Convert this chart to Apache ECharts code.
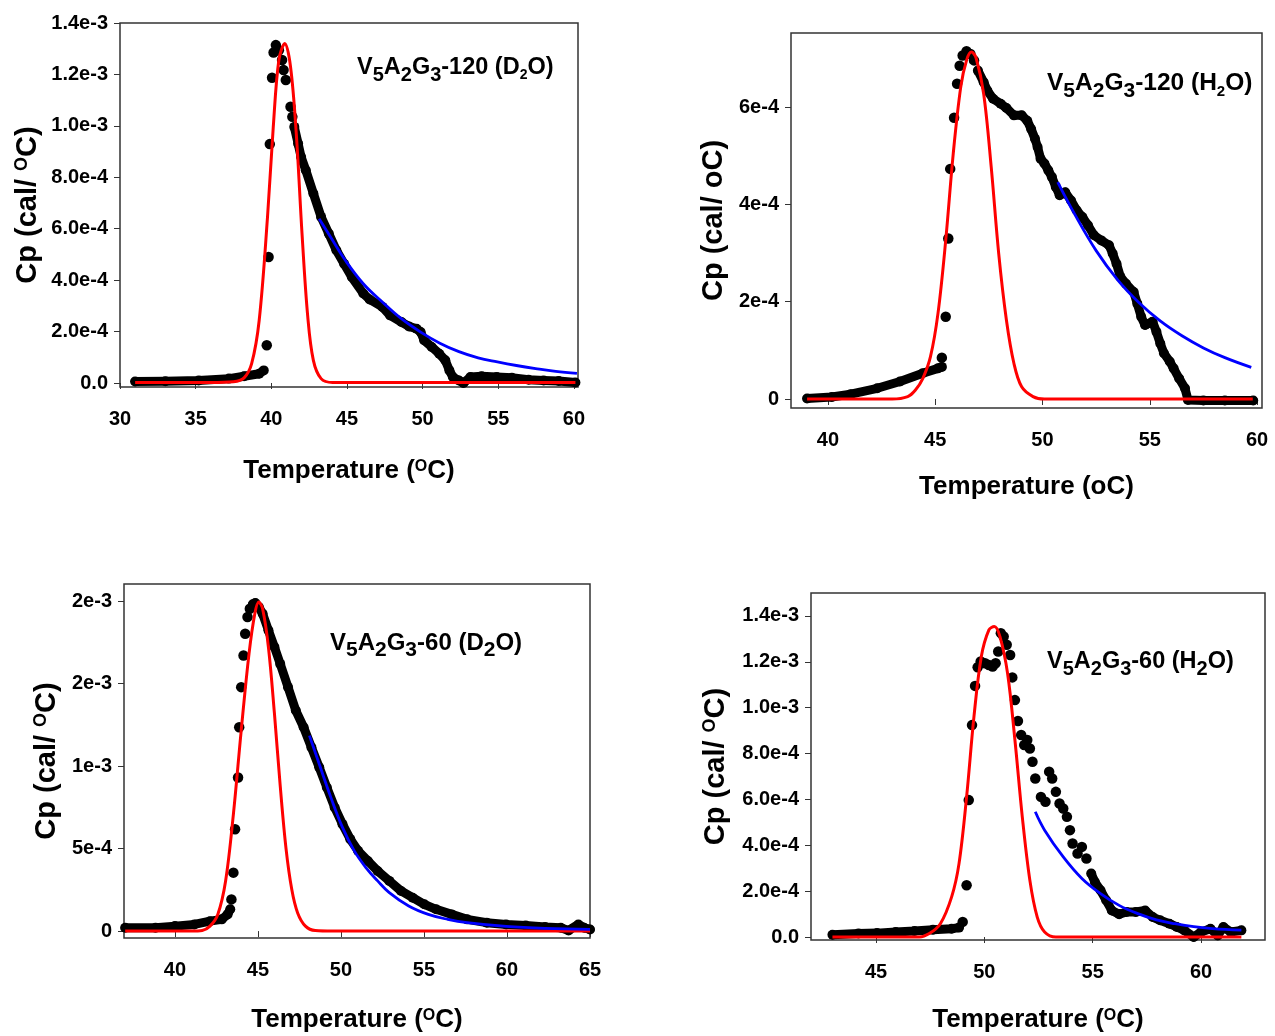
<!DOCTYPE html>
<html><head><meta charset="utf-8">
<script src="https://cdn.jsdelivr.net/npm/echarts@6/dist/echarts.min.js"></script>
<style>html,body{margin:0;padding:0;background:#fff}#c{width:1275px;height:1036px}</style>
</head><body><div id="c"></div>
<script>
// ---------------- Panel 1: V5A2G3-120 (D2O) ----------------
const p1XTicks = [30, 35, 40, 45, 50, 55, 60];
const p1YTicks = [0, 2e-4, 4e-4, 6e-4, 8e-4, 10e-4, 12e-4, 14e-4];
const p1YLabels = ['0.0', '2.0e-4', '4.0e-4', '6.0e-4', '8.0e-4', '1.0e-3', '1.2e-3', '1.4e-3'];
const p1Band = [[31.0,0.06e-4],[33.0,0.07e-4],[35.2,0.10e-4],[37.2,0.17e-4],[38.2,0.26e-4],[39.2,0.36e-4],[39.5,0.49e-4],'-',
  [41.52,9.96e-4],[41.77,9.31e-4],[41.97,8.79e-4],[42.28,8.27e-4],[42.78,7.37e-4],[43.29,6.46e-4],[43.8,5.81e-4],[44.3,5.16e-4],[44.81,4.64e-4],
  [45.32,4.12e-4],[46.08,3.48e-4],[46.5,3.25e-4],[47.34,2.96e-4],[47.85,2.63e-4],[48.6,2.37e-4],[49.1,2.20e-4],[49.6,2.11e-4],[49.87,1.98e-4],
  [50.1,1.66e-4],[50.6,1.40e-4],[51.1,1.14e-4],[51.5,0.88e-4],[51.77,0.49e-4],[52.0,0.23e-4],[52.4,0.10e-4],[52.7,0.0],[53.16,0.23e-4],
  [53.9,0.26e-4],[54.9,0.23e-4],[55.9,0.20e-4],[57.0,0.13e-4],[58.0,0.10e-4],[59.0,0.08e-4],[60.1,0.02e-4]];
const p1Dots = [[39.70,1.47e-4],[39.82,4.90e-4],[39.90,9.29e-4],[40.05,11.87e-4],[40.15,12.85e-4],[40.30,13.14e-4],[40.50,12.94e-4],
  [40.71,12.56e-4],[40.81,12.17e-4],[40.96,11.78e-4],[41.27,10.74e-4],[41.39,10.35e-4]];
const p1Red = [[31,0.02e-4],[36,0.02e-4],[37.5,0.05e-4],[38.2,0.2e-4],[38.7,0.75e-4],[39.2,2.44e-4],[39.75,6.46e-4],[40.13,9.96e-4],
  [40.5,12.56e-4],[40.89,13.2e-4],[41.27,12.3e-4],[41.65,9.7e-4],[42.03,5.81e-4],[42.41,2.57e-4],[42.78,0.88e-4],[43.29,0.17e-4],
  [44.05,0.02e-4],[50,0.02e-4],[60.1,0.02e-4]];
const p1Blue = [[43.16,6.39e-4],[44.05,5.55e-4],[44.81,4.84e-4],[46.08,3.86e-4],[47.34,3.15e-4],[48.6,2.50e-4],[49.87,1.98e-4],
  [51.14,1.55e-4],[52.4,1.22e-4],[53.67,0.98e-4],[54.94,0.82e-4],[56.2,0.68e-4],[57.47,0.56e-4],[58.8,0.45e-4],[60.2,0.37e-4]];

// ---------------- Panel 2: V5A2G3-120 (H2O) ----------------
const p2XTicks = [40, 45, 50, 55, 60];
const p2YTicks = [0, 2e-4, 4e-4, 6e-4];
const p2YLabels = ['0', '2e-4', '4e-4', '6e-4'];
const p2Band = [[39.03,0.01e-4],[40.18,0.04e-4],[41.06,0.10e-4],[42.3,0.22e-4],[43.36,0.36e-4],[44.42,0.53e-4],[45.13,0.63e-4],[45.31,0.66e-4],'-',
  [46.99,6.75e-4],[47.26,6.51e-4],[47.43,6.34e-4],[47.7,6.17e-4],[48.05,6.07e-4],[48.32,5.98e-4],[48.67,5.83e-4],[49.03,5.83e-4],[49.29,5.72e-4],
  [49.47,5.55e-4],[49.65,5.35e-4],[49.77,5.18e-4],[49.91,4.94e-4],[50.09,4.84e-4],[50.27,4.70e-4],[50.44,4.56e-4],[50.62,4.36e-4],[50.8,4.19e-4],
  [51.06,4.25e-4],[51.33,4.08e-4],[51.59,3.88e-4],[51.86,3.74e-4],[52.12,3.57e-4],[52.39,3.37e-4],[52.74,3.26e-4],[53.1,3.16e-4],[53.27,2.99e-4],
  [53.45,2.78e-4],[53.63,2.51e-4],[53.89,2.37e-4],[54.25,2.20e-4],[54.42,1.96e-4],[54.6,1.69e-4],[54.78,1.52e-4],[55.13,1.59e-4],[55.31,1.38e-4],
  [55.49,1.14e-4],[55.66,0.94e-4],[55.93,0.77e-4],[56.11,0.63e-4],[56.37,0.42e-4],[56.64,0.22e-4],[56.78,-0.02e-4],[57.5,-0.03e-4],[58.5,-0.03e-4],[59.82,-0.03e-4]];
const p2Dots = [[45.31,0.85e-4],[45.49,1.69e-4],[45.61,3.30e-4],[45.70,4.73e-4],[45.88,5.78e-4],[46.02,6.48e-4],[46.14,6.85e-4],[46.28,7.06e-4],
  [46.46,7.15e-4],[46.64,7.09e-4],[46.81,6.96e-4]];
const p2Red = [[39.03,0],[43.0,0],[43.72,0.05e-4],[44.07,0.18e-4],[44.42,0.42e-4],[44.78,0.87e-4],[45.13,1.76e-4],[45.49,3.26e-4],[45.84,5.04e-4],
  [46.19,6.41e-4],[46.46,6.96e-4],[46.69,7.13e-4],[46.9,7.02e-4],[47.26,6.27e-4],[47.61,4.77e-4],[47.96,2.99e-4],[48.32,1.62e-4],[48.67,0.73e-4],
  [49.03,0.25e-4],[49.56,0.05e-4],[50.09,0],[59.8,0]];
const p2Blue = [[50.71,4.46e-4],[51.5,3.80e-4],[52.5,3.05e-4],[53.5,2.45e-4],[54.5,1.98e-4],[55.5,1.60e-4],[56.5,1.30e-4],[57.5,1.05e-4],
  [58.5,0.85e-4],[59.73,0.65e-4]];

// ---------------- Panel 3: V5A2G3-60 (D2O) ----------------
const p3XTicks = [40, 45, 50, 55, 60, 65];
const p3YTicks = [0, 5e-4, 10e-4, 15e-4, 20e-4];
const p3YLabels = ['0', '5e-4', '1e-3', '2e-3', '2e-3'];
const p3Band = [[37.0,0.2e-4],[38.83,0.2e-4],[40,0.3e-4],[41.17,0.4e-4],[42.11,0.6e-4],[42.82,0.71e-4],[43.17,1.01e-4],[43.33,1.32e-4],'-',
  [44.69,19.8e-4],[44.84,19.88e-4],[45.05,19.64e-4],[45.28,19.23e-4],[45.63,18.22e-4],[45.99,17.21e-4],[46.34,16.19e-4],[46.81,14.78e-4],
  [47.28,13.36e-4],[47.75,12.35e-4],[48.22,11.13e-4],[48.69,9.92e-4],[49.15,8.7e-4],[49.62,7.49e-4],[50.09,6.48e-4],[50.56,5.57e-4],
  [51.03,4.86e-4],[51.62,4.25e-4],[52.21,3.64e-4],[52.91,3.04e-4],[53.62,2.43e-4],[54.32,2.02e-4],[55.02,1.62e-4],[55.73,1.32e-4],
  [56.67,1.01e-4],[57.6,0.71e-4],[58.78,0.51e-4],[59.95,0.40e-4],[61.13,0.34e-4],[62.3,0.24e-4],[63.24,0.2e-4],[63.71,0.04e-4],
  [64.3,0.4e-4],[64.65,0.2e-4],[65,0.1e-4]];
const p3Dots = [[43.4,1.92e-4],[43.52,3.54e-4],[43.62,6.17e-4],[43.8,9.31e-4],[43.87,12.35e-4],[43.99,14.78e-4],[44.13,16.7e-4],
  [44.23,18.02e-4],[44.37,19.03e-4],[44.51,19.53e-4]];
const p3Red = [[37,0],[41.0,0],[41.64,0.04e-4],[42.11,0.3e-4],[42.58,1.01e-4],[43.05,3.04e-4],[43.52,7.09e-4],[43.99,12.15e-4],[44.46,16.8e-4],
  [44.81,19.23e-4],[45.05,19.94e-4],[45.28,19.53e-4],[45.63,17.2e-4],[45.99,13.2e-4],[46.34,8.8e-4],[46.69,5.0e-4],[47.04,2.5e-4],
  [47.39,1.1e-4],[47.86,0.3e-4],[48.45,0.03e-4],[49.5,0],[65,0]];
const p3Blue = [[48.1,11.84e-4],[48.69,10.12e-4],[49.39,8.1e-4],[50.09,6.28e-4],[50.8,4.86e-4],[51.5,3.85e-4],[52.21,3.04e-4],[52.91,2.33e-4],
  [54.08,1.52e-4],[55.26,1.01e-4],[56.43,0.71e-4],[57.6,0.51e-4],[59.95,0.28e-4],[62.3,0.16e-4],[65,0.1e-4]];

// ---------------- Panel 4: V5A2G3-60 (H2O) ----------------
const p4XTicks = [45, 50, 55, 60];
const p4YTicks = [0, 2e-4, 4e-4, 6e-4, 8e-4, 10e-4, 12e-4, 14e-4];
const p4YLabels = ['0.0', '2.0e-4', '4.0e-4', '6.0e-4', '8.0e-4', '1.0e-3', '1.2e-3', '1.4e-3'];
const p4Band = [[42.99,0.1e-4],[44.19,0.15e-4],[45.05,0.17e-4],[45.91,0.22e-4],[46.77,0.26e-4],[47.63,0.32e-4],[48.49,0.36e-4],[48.83,0.41e-4],'-',
  [54.93,2.77e-4],[55.1,2.4e-4],[55.36,2.04e-4],[55.62,1.6e-4],[55.88,1.16e-4],[56.22,0.99e-4],[56.56,1.09e-4],[56.99,1.09e-4],[57.42,1.16e-4],
  [57.77,0.87e-4],[58.11,0.73e-4],[58.54,0.58e-4],[58.88,0.44e-4],[59.23,0.29e-4],[59.66,0],[60.0,0.22e-4],[60.43,0.36e-4],[60.77,0.07e-4],
  [61.03,0.44e-4],[61.37,0.22e-4],[61.86,0.29e-4]];
const p4Dots = [[49.0,0.66e-4],[49.18,2.26e-4],[49.28,5.97e-4],[49.43,9.24e-4],[49.57,10.95e-4],[49.69,11.76e-4],[49.83,12.01e-4],[50.03,11.94e-4],
  [50.21,11.86e-4],[50.38,11.79e-4],[50.52,11.94e-4],[50.64,12.45e-4],[50.76,13.25e-4],[50.89,13.1e-4],[51.03,12.74e-4],[51.19,12.3e-4],
  [51.29,11.32e-4],[51.41,10.33e-4],[51.55,9.42e-4],[51.7,8.81e-4],[51.84,8.37e-4],[51.98,8.59e-4],[52.1,8.22e-4],[52.22,7.64e-4],
  [52.35,6.91e-4],[52.61,6.11e-4],[52.82,5.9e-4],[52.99,7.21e-4],[53.13,6.91e-4],[53.3,6.33e-4],[53.47,5.82e-4],[53.64,5.6e-4],
  [53.81,5.24e-4],[53.95,4.66e-4],[54.07,4.08e-4],[54.3,3.64e-4],[54.5,3.93e-4],[54.71,3.42e-4]];
const p4Red = [[42.99,0],[47.0,0],[47.46,0.15e-4],[47.97,0.58e-4],[48.49,1.75e-4],[48.83,3.2e-4],[49.18,6.11e-4],[49.52,9.61e-4],[49.86,12.23e-4],
  [50.21,13.39e-4],[50.46,13.54e-4],[50.72,13.1e-4],[51.07,11.5e-4],[51.41,8.59e-4],[51.75,5.24e-4],[52.1,2.47e-4],[52.44,0.87e-4],
  [52.78,0.22e-4],[53.3,0],[61.86,0]];
const p4Blue = [[52.35,5.46e-4],[52.78,4.66e-4],[53.64,3.49e-4],[54.5,2.55e-4],[55.36,1.89e-4],[56.22,1.38e-4],[57.08,1.02e-4],[57.94,0.75e-4],
  [58.8,0.58e-4],[59.66,0.45e-4],[60.52,0.37e-4],[61.86,0.30e-4]];

// ---------------- layout & style ----------------
const FONT = '"Liberation Sans", Arial, sans-serif';
const panels = [
  {grid:{left:120,top:23,width:458,height:364}, x:[30,60.27], y:[-1.56e-5,1.4e-3], xt:p1XTicks, yt:p1YTicks, yl:p1YLabels,
   band:p1Band, dots:p1Dots, red:p1Red, blue:p1Blue, xGap:71, yGap:78, sup:true, ts:23.5,
   title:'{m|V}{s|5}{m|A}{s|2}{m|G}{s|3}{m|-120 (D}{ss|2}{m|O)}', tl:357, tt:50},
  {grid:{left:791,top:33,width:471,height:375}, x:[38.28,60.23], y:[-1.85e-5,7.523e-4], xt:p2XTicks, yt:p2YTicks, yl:p2YLabels,
   band:p2Band, dots:p2Dots, red:p2Red, blue:p2Blue, xGap:66, yGap:63, sup:false, ts:24.5,
   title:'{m|V}{s|5}{m|A}{s|2}{m|G}{s|3}{m|-120 (H}{ss|2}{m|O)}', tl:1047, tt:65},
  {grid:{left:124,top:584,width:466,height:354}, x:[36.93,65], y:[-4.2e-5,2.103e-3], xt:p3XTicks, yt:p3YTicks, yl:p3YLabels,
   band:p3Band, dots:p3Dots, red:p3Red, blue:p3Blue, xGap:69, yGap:63, sup:true, ts:24,
   title:'{m|V}{s|5}{m|A}{s|2}{m|G}{s|3}{m|-60 (D}{s|2}{m|O)}', tl:330, tt:625},
  {grid:{left:811,top:593,width:454,height:347}, x:[42.0,62.95], y:[-1.3e-5,1.5e-3], xt:p4XTicks, yt:p4YTicks, yl:p4YLabels,
   band:p4Band, dots:p4Dots, red:p4Red, blue:p4Blue, xGap:67, yGap:81, sup:true, ts:23.5,
   title:'{m|V}{s|5}{m|A}{s|2}{m|G}{s|3}{m|-60 (H}{s|2}{m|O)}', tl:1047, tt:644}
];

const nameRich = (size) => ({
  n: {fontSize: size, fontWeight: 'bold', fontFamily: FONT, color: '#000'},
  sup: {fontSize: Math.round(size*0.62), fontWeight: 'bold', fontFamily: FONT, color: '#000', padding: [0,0,Math.round(size*0.36),0]}
});
const titleRich = (sz) => ({
  m: {fontSize: sz, fontFamily: FONT, color: '#000', fontWeight: 'bold'},
  s: {fontSize: Math.round(sz*0.86), fontFamily: FONT, color: '#000', fontWeight: 'bold', padding: [Math.round(sz*0.64),0,0,0]},
  ss: {fontSize: Math.round(sz*0.6), fontFamily: FONT, color: '#000', fontWeight: 'bold', padding: [Math.round(sz*0.64),0,0,0]}
});

const option = {animation:false, backgroundColor:'#fff', grid:[], xAxis:[], yAxis:[], series:[], title:[]};
panels.forEach((p, i) => {
  option.grid.push(Object.assign({show:true, borderColor:'#333', borderWidth:1.5, backgroundColor:'transparent', outerBoundsMode:'none', containLabel:false}, p.grid));
  const xName = p.sup ? '{n|Temperature (}{sup|O}{n|C)}' : '{n|Temperature (oC)}';
  const yName = p.sup ? '{n|Cp (cal/ }{sup|O}{n|C)}' : '{n|Cp (cal/ oC)}';
  option.xAxis.push({type:'value', gridIndex:i, min:p.x[0], max:p.x[1],
    name:xName, nameLocation:'middle', nameGap:p.xGap, nameTextStyle:{rich:nameRich(26)},
    axisLine:{show:false}, splitLine:{show:false},
    axisTick:{show:true, inside:false, length:6, customValues:p.xt, lineStyle:{color:'#333', width:1}},
    axisLabel:{customValues:p.xt, margin:22, fontSize:20, fontWeight:'bold', fontFamily:FONT, color:'#000',
      formatter:(v)=>String(Math.round(v))}});
  option.yAxis.push({type:'value', gridIndex:i, min:p.y[0], max:p.y[1],
    name:yName, nameLocation:'middle', nameGap:p.yGap, nameRotate:90, nameTextStyle:{rich:nameRich(29)},
    axisLine:{show:false}, splitLine:{show:false},
    axisTick:{show:true, inside:false, length:6, customValues:p.yt, lineStyle:{color:'#333', width:1}},
    axisLabel:{customValues:p.yt, margin:12, fontSize:20, fontWeight:'bold', fontFamily:FONT, color:'#000',
      formatter:(v)=>{const k=p.yt.findIndex(t=>Math.abs(t-v)<1e-9); return k>=0?p.yl[k]:'';}}});
  option.series.push({type:'line', xAxisIndex:i, yAxisIndex:i, data:p.band, symbol:'circle', symbolSize:10, showSymbol:true,
    connectNulls:false, itemStyle:{color:'#000', opacity:1}, lineStyle:{color:'#000', width:9, cap:'round', join:'round'}, z:2});
  option.series.push({type:'scatter', xAxisIndex:i, yAxisIndex:i, data:p.dots, symbol:'circle', symbolSize:10.5,
    itemStyle:{color:'#000', opacity:1}, z:2});
  option.series.push({type:'line', xAxisIndex:i, yAxisIndex:i, data:p.red, smooth:0.35, showSymbol:false,
    lineStyle:{color:'#ff0000', width:3}, z:3});
  option.series.push({type:'line', xAxisIndex:i, yAxisIndex:i, data:p.blue, smooth:0.4, showSymbol:false,
    lineStyle:{color:'#0000ff', width:2.8}, z:4});
  option.title.push({text:p.title, left:p.tl, top:p.tt, padding:0, textStyle:{rich:titleRich(p.ts)}});
});

const chart = echarts.init(document.getElementById('c'), null, {renderer:'canvas'});
chart.setOption(option);
</script></body></html>
